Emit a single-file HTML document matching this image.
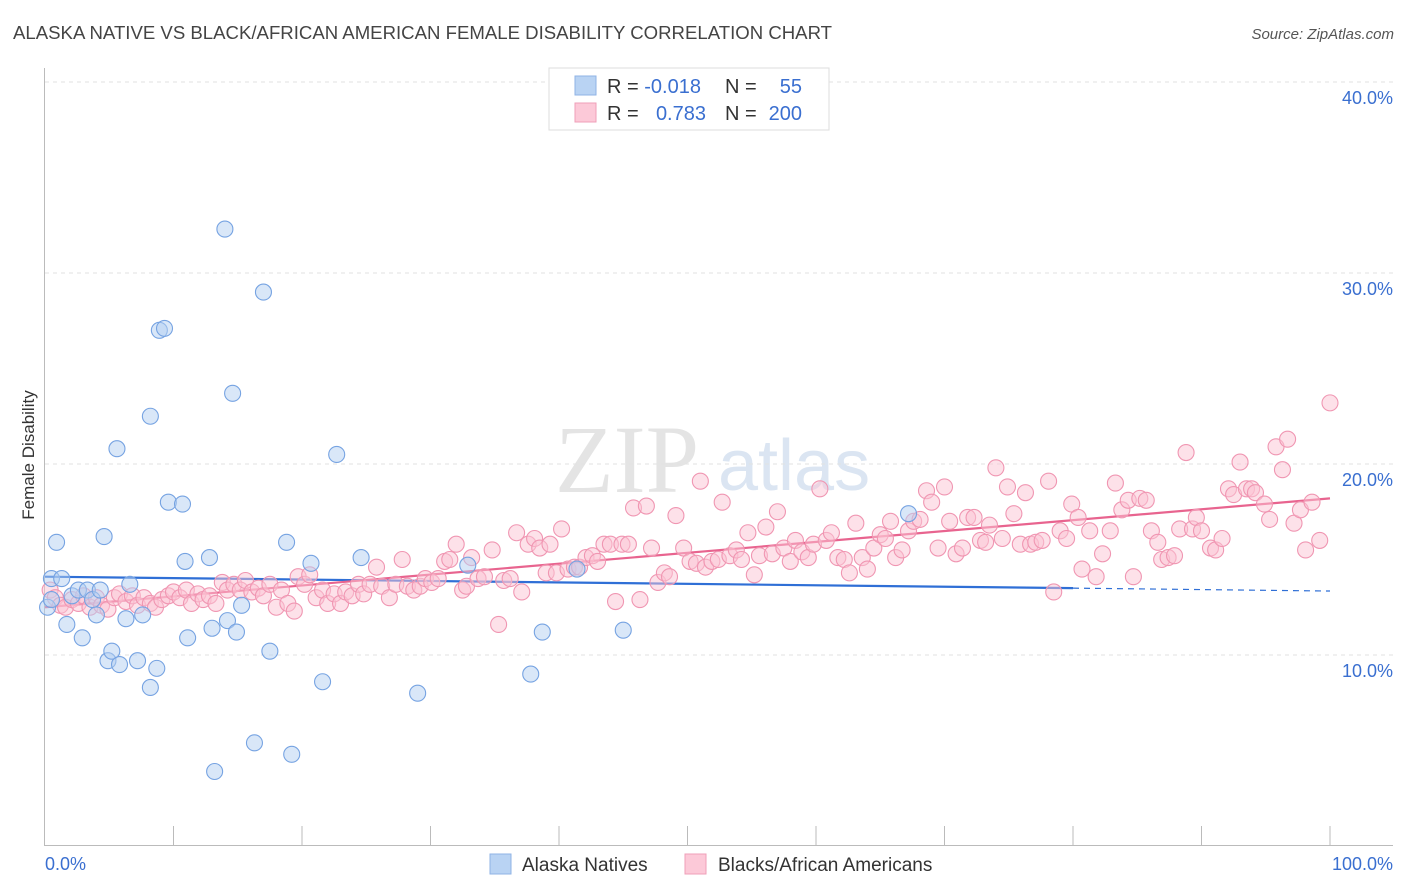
<!DOCTYPE html>
<html><head><meta charset="utf-8"><style>
body{margin:0;background:#fff;font-family:"Liberation Sans",sans-serif;}
svg{display:block}
</style></head><body>
<svg id="chart" width="1406" height="892" xmlns="http://www.w3.org/2000/svg">
<text x="13" y="39" font-size="18.6" fill="#444">ALASKA NATIVE VS BLACK/AFRICAN AMERICAN FEMALE DISABILITY CORRELATION CHART</text>
<text x="1394" y="39" font-size="15" fill="#555" font-style="italic" text-anchor="end">Source: ZipAtlas.com</text>
<text transform="translate(34,455) rotate(-90)" font-size="17" fill="#333" text-anchor="middle">Female Disability</text>
<text x="555" y="492" font-size="96" fill="#e4e4e4" font-family="Liberation Serif,serif">ZIP</text>
<text x="718" y="490" font-size="72" fill="#dbe5f2">atlas</text>
<g id="grid"></g><g id="axes"></g><g id="trends"></g><g id="points"></g>
<g>
<rect x="549" y="68" width="280" height="62" fill="#fff" stroke="#ddd"/>
<rect x="575" y="76" width="21" height="19" fill="#b9d3f3" stroke="#8fb3e6"/>
<rect x="575" y="103" width="21" height="19" fill="#fcc9d8" stroke="#ef9fb8"/>
<text x="607" y="93" font-size="20" fill="#333">R = <tspan fill="#3a6fd0">-0.018</tspan></text>
<text x="725" y="93" font-size="20" fill="#333">N =</text><text x="802" y="93" font-size="20" fill="#3a6fd0" text-anchor="end">55</text>
<text x="607" y="120" font-size="20" fill="#333">R = </text><text x="706" y="120" font-size="20" fill="#3a6fd0" text-anchor="end">0.783</text>
<text x="725" y="120" font-size="20" fill="#333">N =</text><text x="802" y="120" font-size="20" fill="#3a6fd0" text-anchor="end">200</text>
</g>
<g>
<rect x="490" y="854" width="21" height="20" fill="#b9d3f3" stroke="#8fb3e6"/>
<text x="522" y="871" font-size="19" fill="#333">Alaska Natives</text>
<rect x="685" y="854" width="21" height="20" fill="#fcc9d8" stroke="#ef9fb8"/>
<text x="718" y="871" font-size="19" fill="#333">Blacks/African Americans</text>
</g>
<text x="45" y="870" font-size="18" fill="#3a6fd0">0.0%</text>
<text x="1393" y="870" font-size="18" fill="#3a6fd0" text-anchor="end">100.0%</text>
</svg>
<script>
const yTicks=[10,20,30,40];
const yTickLabels=["10.0%","20.0%","30.0%","40.0%"];
const blueX=[0.5,0.9,1.3,1.7,2.1,2.6,2.9,3.3,3.7,4.0,4.3,4.6,4.9,5.2,5.6,5.8,6.3,6.6,7.2,7.6,8.2,8.2,8.7,8.9,9.3,9.6,10.7,10.9,11.1,12.8,13.0,13.2,14.0,14.2,14.6,14.9,15.3,16.3,17.0,17.5,18.8,19.2,20.7,21.6,22.7,24.6,29.0,32.9,37.8,38.7,41.4,45.0,67.2,0.2,0.5];
const blueY=[14.0,15.9,14.0,11.6,13.1,13.4,10.9,13.4,12.9,12.1,13.4,16.2,9.7,10.2,20.8,9.5,11.9,13.7,9.7,12.1,8.3,22.5,9.3,27.0,27.1,18.0,17.9,14.9,10.9,15.1,11.4,3.9,32.3,11.8,23.7,11.2,12.6,5.4,29.0,10.2,15.9,4.8,14.8,8.6,20.5,15.1,8.0,14.7,9.0,11.2,14.5,11.3,17.4,12.5,12.9];
const pinkX=[0.4,0.8,1.2,1.6,2.1,2.6,3.0,3.5,4.0,4.4,4.9,5.4,5.8,6.3,6.8,7.2,7.7,8.2,8.6,9.1,9.6,10.0,10.5,11.0,11.4,11.9,12.3,12.8,13.3,13.8,14.2,14.7,15.2,15.6,16.1,16.6,17.0,17.5,18.0,18.4,18.9,19.4,19.7,20.2,20.6,21.1,21.6,22.0,22.5,23.0,23.4,23.9,24.4,24.8,25.3,25.8,26.2,26.8,27.3,27.8,28.2,28.7,29.2,29.6,30.1,30.6,31.1,31.5,32.0,32.5,32.8,33.2,33.7,34.2,34.8,35.3,35.7,36.2,36.7,37.1,37.6,38.1,38.5,39.0,39.3,39.8,40.2,40.7,41.2,41.6,42.1,42.6,43.0,43.5,44.0,44.4,44.9,45.4,45.8,46.3,46.8,47.2,47.7,48.2,48.6,49.1,49.7,50.2,50.7,51.0,51.4,51.9,52.4,52.7,53.3,53.8,54.2,54.7,55.2,55.6,56.1,56.6,57.0,57.5,58.0,58.4,58.9,59.4,59.8,60.3,60.8,61.2,61.7,62.2,62.6,63.1,63.6,64.0,64.5,65.0,65.4,65.8,66.2,66.7,67.2,67.6,68.1,68.6,69.0,69.5,70.0,70.4,70.9,71.4,71.8,72.3,72.8,73.2,73.5,74.0,74.5,74.9,75.4,75.9,76.3,76.7,77.1,77.6,78.1,78.5,79.0,79.5,79.9,80.4,80.7,81.3,81.8,82.3,82.9,83.3,83.8,84.3,84.7,85.2,85.7,86.1,86.6,86.9,87.4,87.9,88.3,88.8,89.3,89.6,90.0,90.7,91.1,91.6,92.1,92.5,93.0,93.5,93.9,94.2,94.9,95.3,95.8,96.3,96.7,97.2,97.7,98.1,98.6,99.2,100];
const pinkY=[13.4,13.0,12.6,12.5,12.9,12.7,13.1,12.5,13.0,12.6,12.4,13.0,13.2,12.8,13.1,12.6,13.0,12.7,12.5,12.9,13.1,13.3,13.0,13.4,12.7,13.2,12.9,13.1,12.7,13.8,13.4,13.7,13.4,13.9,13.3,13.5,13.1,13.7,12.5,13.4,12.7,12.3,14.1,13.7,14.2,13.0,13.4,12.7,13.2,12.7,13.3,13.1,13.7,13.2,13.7,14.6,13.6,13.0,13.7,15.0,13.6,13.4,13.6,14.0,13.8,14.0,14.9,15.0,15.8,13.4,13.6,15.1,14.0,14.1,15.5,11.6,13.9,14.0,16.4,13.3,15.8,16.1,15.6,14.3,15.8,14.3,16.6,14.5,14.6,14.6,15.1,15.2,14.9,15.8,15.8,12.8,15.8,15.8,17.7,12.9,17.8,15.6,13.8,14.3,14.1,17.3,15.6,14.9,14.8,19.1,14.6,14.9,15.0,18.0,15.2,15.5,15.0,16.4,14.2,15.2,16.7,15.3,17.5,15.6,14.9,16.0,15.4,15.1,15.8,18.7,16.0,16.4,15.1,15.0,14.3,16.9,15.1,14.5,15.6,16.3,16.1,17.0,15.1,15.5,16.5,17.0,17.1,18.6,18.0,15.6,18.8,17.0,15.3,15.6,17.2,17.2,16.0,15.9,16.8,19.8,16.1,18.8,17.4,15.8,18.5,15.8,15.9,16.0,19.1,13.3,16.5,16.1,17.9,17.2,14.5,16.5,14.1,15.3,16.5,19.0,17.6,18.1,14.1,18.2,18.1,16.5,15.9,15.0,15.1,15.2,16.6,20.6,16.6,17.2,16.5,15.6,15.5,16.1,18.7,18.4,20.1,18.7,18.7,18.5,17.9,17.1,20.9,19.7,21.3,16.9,17.6,15.5,18.0,16.0,23.2];
const blueTrendX=[0,80,100];
const blueTrendY=[14.1,13.5,13.35];
const pinkTrendX=[0,100];
const pinkTrendY=[12.5,18.2];

const NS="http://www.w3.org/2000/svg";
const X0=45,X1=1330,YB=846,PXPER=19.1;
const sx=v=>X0+(X1-X0)*v/100;
const sy=v=>YB-v*PXPER;
function mk(tag,attrs,parent){const e=document.createElementNS(NS,tag);for(const k in attrs)e.setAttribute(k,attrs[k]);document.getElementById(parent).appendChild(e);return e;}

yTicks.forEach((t,i)=>{
  const l=mk('line',{x1:45,x2:1393,y1:sy(t),y2:sy(t),stroke:'#e2e2e2','stroke-dasharray':'4,4'},'grid');
  
  
  const tx=mk('text',{x:1393,y:sy(t)+22,'font-size':18,fill:'#3a6fd0','text-anchor':'end'},'grid');
  tx.textContent=yTickLabels[i];
  
  
});
let a=mk('line',{x1:44.5,x2:44.5,y1:68,y2:846,stroke:'#bbb'},'axes');


a=mk('line',{x1:44.5,x2:1393,y1:845.5,y2:845.5,stroke:'#bbb'},'axes');


for(let k=1;k<=10;k++){
  const t=mk('line',{x1:sx(k*10),x2:sx(k*10),y1:826,y2:846,stroke:'#bbb'},'axes');
  
  
}
function pts(xs,ys,fill,stroke,name){
  xs.forEach((x,i)=>{
    const c=mk('circle',{cx:sx(x),cy:sy(ys[i]),r:8,fill:fill,'fill-opacity':0.5,stroke:stroke,'stroke-width':1.1},'points');
    
    
  });
}
pts(pinkX,pinkY,'#fbc3d4','#f096b2','pink-point');
pts(blueX,blueY,'#b3cff2','#76a3e2','blue-point');
let tl=mk('line',{x1:sx(blueTrendX[0]),y1:sy(blueTrendY[0]),x2:sx(blueTrendX[1]),y2:sy(blueTrendY[1]),stroke:'#2f6fd6','stroke-width':2.2},'trends');


tl=mk('line',{x1:sx(blueTrendX[1]),y1:sy(blueTrendY[1]),x2:sx(blueTrendX[2]),y2:sy(blueTrendY[2]),stroke:'#2f6fd6','stroke-width':1.2,'stroke-dasharray':'6,5'},'trends');


tl=mk('line',{x1:sx(pinkTrendX[0]),y1:sy(pinkTrendY[0]),x2:sx(pinkTrendX[1]),y2:sy(pinkTrendY[1]),stroke:'#e8648f','stroke-width':2.2},'trends');


</script>
</body></html>
